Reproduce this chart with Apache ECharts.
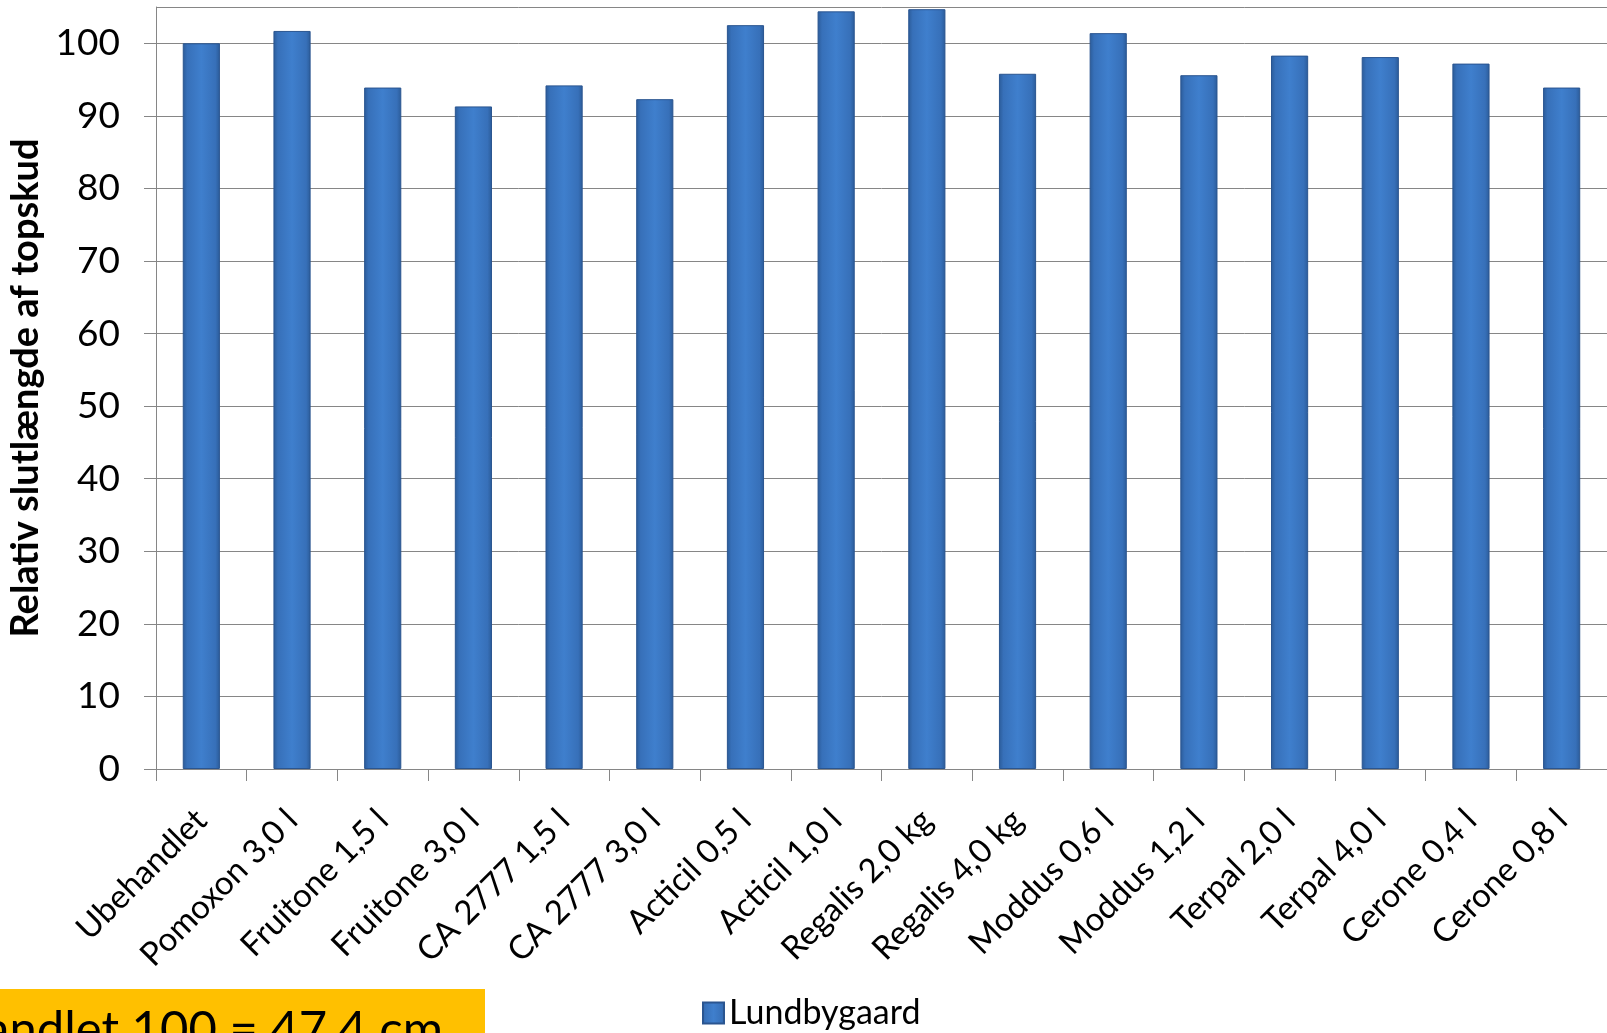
<!DOCTYPE html>
<html>
<head>
<meta charset="utf-8">
<script src="https://cdn.jsdelivr.net/npm/echarts@6/dist/echarts.min.js"></script>
<style>
html,body{margin:0;padding:0;background:#fff;}
#chart{width:1607px;height:1033px;}
</style>
</head>
<body>
<div id="chart"></div>
<script>
var categories = ["Ubehandlet","Pomoxon 3,0 l","Fruitone 1,5 l","Fruitone 3,0 l","CA 2777 1,5 l","CA 2777 3,0 l","Acticil 0,5 l","Acticil 1,0 l","Regalis 2,0 kg","Regalis 4,0 kg","Moddus 0,6 l","Moddus 1,2 l","Terpal 2,0 l","Terpal 4,0 l","Cerone 0,4 l","Cerone 0,8 l"];
var lundbygaard = [100, 101.7, 93.9, 91.3, 94.2, 92.3, 102.5, 104.4, 104.7, 95.8, 101.4, 95.6, 98.3, 98.1, 97.2, 93.9];
var seriesName = "Lundbygaard";
var yAxisTitle = "Relativ slutlængde af topskud";
var noteText = "andlet 100 = 47,4 cm";

var FONT = "Lato";
var chart = echarts.init(document.getElementById('chart'), null, {renderer:'canvas'});
var barColor = new echarts.graphic.LinearGradient(0,0,1,0,[
  {offset:0, color:'#2b5b98'},
  {offset:0.12, color:'#3770b9'},
  {offset:0.5, color:'#3f7fcd'},
  {offset:0.88, color:'#3770b9'},
  {offset:1, color:'#2b5b98'}
]);
chart.setOption({
  animation:false,
  backgroundColor:'#ffffff',
  textStyle:{fontFamily:FONT},
  grid:{left:156, right:0, top:7, bottom:264, containLabel:false, outerBoundsMode:'none'},
  legend:{
    data:[seriesName], left:697, top:991, itemWidth:21, itemHeight:21, itemGap:14,
    icon:'rect',
    textStyle:{fontFamily:FONT, fontSize:34, color:'#000'}
  },
  xAxis:{
    type:'category', data:categories,
    axisLine:{lineStyle:{color:'#868686', width:1}},
    axisTick:{show:true, length:12, lineStyle:{color:'#868686'}},
    axisLabel:{rotate:45, fontSize:33, color:'#000', fontFamily:FONT, margin:46, interval:0, align:'right', verticalAlign:'middle'}
  },
  yAxis:{
    type:'value', min:0, max:105, interval:10,
    name:yAxisTitle, nameLocation:'middle', nameGap:108, nameRotate:90,
    nameTextStyle:{fontFamily:FONT, fontWeight:'bold', fontSize:38, color:'#000'},
    axisLine:{show:true, lineStyle:{color:'#868686', width:1}},
    axisTick:{show:true, length:12, lineStyle:{color:'#868686'}},
    axisLabel:{fontSize:37, color:'#000', fontFamily:FONT, margin:36, showMaxLabel:false},
    splitLine:{show:true, lineStyle:{color:'#868686', width:1}}
  },
  series:[{
    name:seriesName, type:'bar', data:lundbygaard, barWidth:'41%',
    itemStyle:{color:barColor, borderColor:'#2a5590', borderWidth:1}
  }],
  graphic:[
    {type:'rect', shape:{x:0, y:989, width:485, height:44}, style:{fill:'#FFC000'}, z:10},
    {type:'text', style:{text:noteText, x:443, y:1030, align:'right', verticalAlign:'middle', fontFamily:FONT, fontSize:49, fill:'#000'}, z:11}
  ]
});
</script>
</body>
</html>
